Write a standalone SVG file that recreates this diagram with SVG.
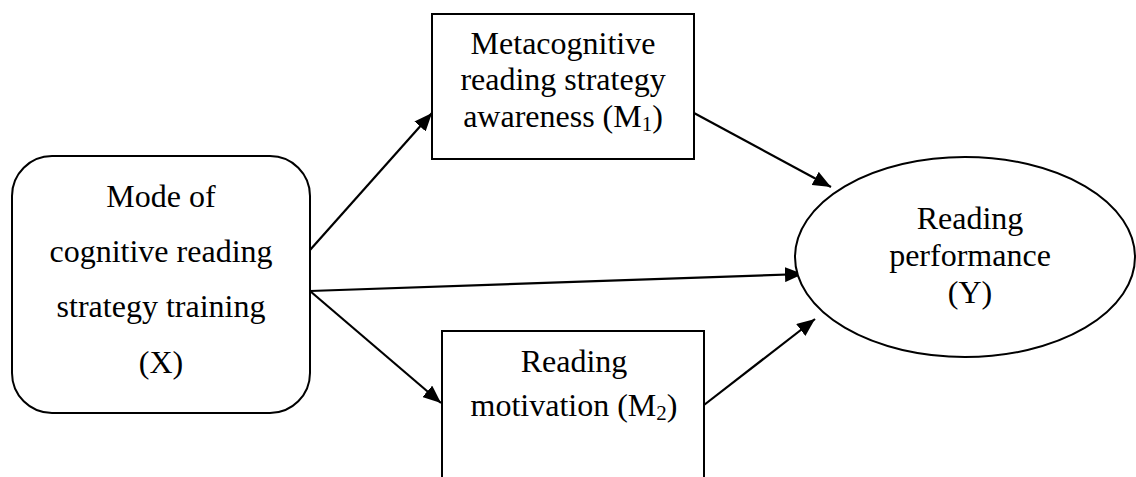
<svg xmlns="http://www.w3.org/2000/svg" width="1136" height="477" viewBox="0 0 1136 477">
<style>
.shape{fill:#fff;stroke:#000;stroke-width:2}
.t{font-family:"Liberation Serif","Times New Roman",serif;font-size:32px;fill:#000;text-anchor:middle}
.sub{font-size:21px}
.c{stroke:#000;stroke-width:2.2;fill:none;marker-end:url(#ah)}
</style>
<defs>
<marker id="ah" markerUnits="userSpaceOnUse" markerWidth="19" markerHeight="15" refX="18" refY="7.5" orient="auto">
<path d="M0,0 L18,7.5 L0,15 Z" fill="#000"/>
</marker>
</defs>
<rect width="1136" height="477" fill="#fff"/>
<g id="connectors">
<path class="c" d="M310,250 L432,113"/>
<path class="c" d="M310,291 L803,274"/>
<path class="c" d="M310,291 L441,403"/>
<path class="c" d="M694,113 L831,187"/>
<path class="c" d="M704,405 L815,319"/>
</g>
<g id="X">
<rect class="shape" x="12" y="156" width="298" height="257" rx="40" ry="40"/>
<text class="t" x="161" y="207">Mode of</text>
<text class="t" x="161" y="262">cognitive reading</text>
<text class="t" x="161" y="317">strategy training</text>
<text class="t" x="161" y="373">(X)</text>
</g>
<g id="M1">
<rect class="shape" x="432" y="14" width="262" height="145"/>
<text class="t" x="563" y="54">Metacognitive</text>
<text class="t" x="563" y="90">reading strategy</text>
<text class="t" x="563" y="127">awareness (M<tspan class="sub" dy="4">1</tspan><tspan dy="-4">)</tspan></text>
</g>
<g id="M2">
<rect class="shape" x="442" y="331" width="262" height="170"/>
<text class="t" x="574" y="372">Reading</text>
<text class="t" x="574" y="416">motivation (M<tspan class="sub" dy="4">2</tspan><tspan dy="-4">)</tspan></text>
</g>
<g id="Y">
<ellipse class="shape" cx="965" cy="257" rx="170" ry="100"/>
<text class="t" x="970" y="229">Reading</text>
<text class="t" x="970" y="266">performance</text>
<text class="t" x="970" y="303">(Y)</text>
</g>
</svg>
